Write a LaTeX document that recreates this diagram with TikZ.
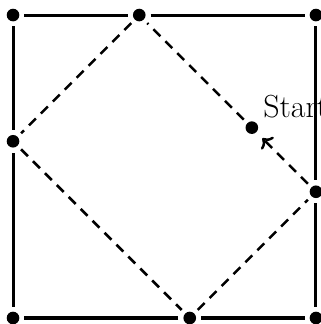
\documentclass[tikz,border=0pt]{standalone}
\usetikzlibrary{arrows.meta}

\begin{document}
\begin{tikzpicture}[>=To, font=\fontsize{18}{22}\selectfont]
  \tikzset{punto/.style={circle, fill=black, inner sep=0pt, minimum size=0.25cm, outer sep=0.1cm},
           lado/.style={line width=1.7pt},
           recorrido/.style={line width=1.4pt, dash pattern=on 5.5pt off 4pt}}
  \useasboundingbox (-0.258,-0.119) rectangle (6.099,6.298);

  % Esquinas del cuadrado
  \node[punto] (c1) at (0,6) {};
  \node[punto] (c2) at (6,6) {};
  \node[punto] (c3) at (6,0) {};
  \node[punto] (c4) at (0,0) {};

  % Puntos sobre los lados
  \node[punto] (arriba) at (2.5,6) {};
  \node[punto] (izq) at (0,3.5) {};
  \node[punto] (abajo) at (3.5,0) {};
  \node[punto] (der) at (6,2.5) {};

  % Punto de partida
  \node[punto] (inicio) at (4.73,3.77) {};
  \node[anchor=base west, inner sep=0pt] (etiqueta) at (4.95,3.97) {Start};

  % Lados
  \draw[lado] (c1) -- (arriba) -- (c2) -- (der) -- (c3) -- (abajo) -- (c4) -- (izq) -- (c1);

  % Camino en linea discontinua
  \draw[recorrido, ->, shorten >=2pt] (der) -- (inicio);
  \draw[recorrido] (inicio) -- (arriba);
  \draw[recorrido] (arriba) -- (izq);
  \draw[recorrido] (izq) -- (abajo);
  \draw[recorrido] (abajo) -- (der);
\end{tikzpicture}
\end{document}
